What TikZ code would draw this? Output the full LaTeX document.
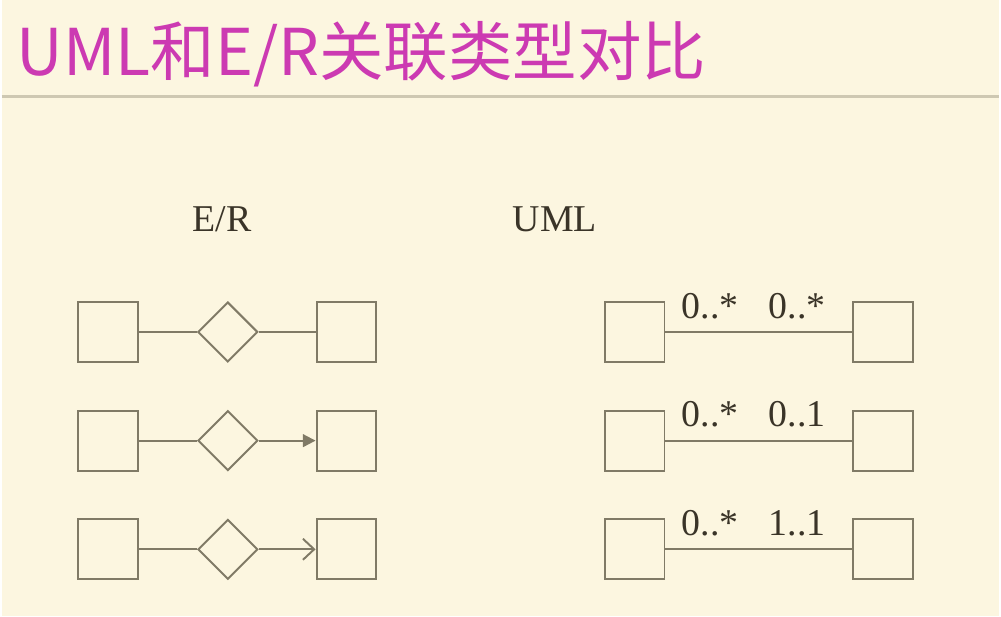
\documentclass[tikz,border=0pt]{standalone}
\usepackage{fontspec}
\setmainfont{Liberation Serif}
\newfontfamily\cjk{Noto Sans CJK SC}
\usetikzlibrary{shapes.geometric,arrows.meta,calc}
\definecolor{paper}{RGB}{252,246,224}
\definecolor{ink}{RGB}{128,122,102}
\definecolor{txt}{RGB}{58,52,40}
\definecolor{titlecol}{RGB}{204,58,178}
\definecolor{rulecol}{RGB}{206,200,178}

\begin{document}
\begin{tikzpicture}
  [x=0.025cm,y=-0.025cm,
   box/.style={draw=ink,line width=1.4pt,minimum size=1.5cm,inner sep=0pt},
   rel/.style={draw=ink,line width=1.4pt,diamond,minimum size=1.5cm,inner sep=0pt},
   link/.style={draw=ink,line width=1.4pt},
   lab/.style={text=txt,inner sep=0pt,font=\fontsize{27}{32}\selectfont},
   tip1/.style={-},
   tip2/.style={-{Triangle[length=9pt,width=9pt]}},
   tip3/.style={-{Straight Barb[length=8pt,width=15pt]}}
  ]

  % page
  \fill[paper] (0,0) rectangle (1001,618);
  \node[anchor=base west,inner sep=0pt,text=titlecol,font=\cjk\fontsize{46}{50}\selectfont]
    (title) at (15,76) {UML和E/R关联类型对比};
  \draw[rulecol,line width=2.2pt] (0,97) -- (1001,97);

  % headings
  \node[lab,anchor=base] (er) at (221,232) {E/R};
  \node[lab,anchor=base] (uml) at (555,232) {UML};

  % rows
  \foreach \r/\y/\ma/\mb in {1/333/{0..*}/{0..*},2/442/{0..*}/{0..1},3/551/{0..*}/{1..1}}
  {
    \node[box] (el\r) at (107,\y) {};
    \node[rel] (d\r) at (227,\y) {};
    \node[box] (er\r) at (346,\y) {};
    \draw[link] (el\r) -- (d\r);
    \draw[link,tip\r] (d\r) -- (er\r);

    \node[box] (ul\r) at (635,\y) {};
    \node[box] (ur\r) at (884,\y) {};
    \draw[link] (ul\r) -- (ur\r);
    \node[lab,anchor=base west] (ma\r) at ($(ul\r.east)+(16,-14)$) {\ma};
    \node[lab,anchor=base east] (mb\r) at ($(ur\r.west)+(-26,-14)$) {\mb};
  }
\end{tikzpicture}
\end{document}
